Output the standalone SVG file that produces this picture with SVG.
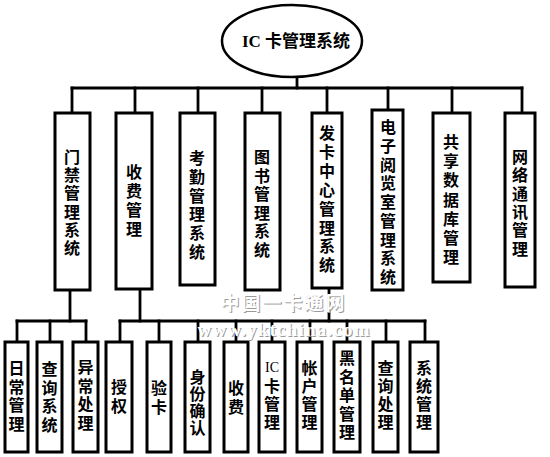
<svg xmlns="http://www.w3.org/2000/svg" width="550" height="457" viewBox="0 0 550 457">
<style>
.box{fill:#fff;stroke:#000;stroke-width:3}
.ln{fill:none;stroke:#000;stroke-width:2.8;stroke-linecap:square}
.t{font-family:"Noto Sans CJK SC","Liberation Serif",serif;font-size:16px;font-weight:700;fill:#000}
.v{writing-mode:vertical-rl;text-orientation:upright}
.wm{font-weight:700;text-anchor:middle}
</style>
<rect width="550" height="457" fill="#fff"/>
<g id="connectors">
<line class="ln" x1="297" y1="77" x2="297" y2="88"/>
<line class="ln" x1="72" y1="88" x2="522" y2="88"/>
<line class="ln" x1="72" y1="88" x2="72" y2="113"/>
<line class="ln" x1="135" y1="88" x2="135" y2="113"/>
<line class="ln" x1="198" y1="88" x2="198" y2="113"/>
<line class="ln" x1="262" y1="88" x2="262" y2="113"/>
<line class="ln" x1="327" y1="88" x2="327" y2="113"/>
<line class="ln" x1="388" y1="88" x2="388" y2="110"/>
<line class="ln" x1="452" y1="88" x2="452" y2="113"/>
<line class="ln" x1="522" y1="88" x2="522" y2="113"/>
<line class="ln" x1="70" y1="290" x2="70" y2="321"/>
<line class="ln" x1="17" y1="321" x2="86" y2="321"/>
<line class="ln" x1="17" y1="321" x2="17" y2="342"/>
<line class="ln" x1="50" y1="321" x2="50" y2="342"/>
<line class="ln" x1="86" y1="321" x2="86" y2="342"/>
<line class="ln" x1="140" y1="289" x2="140" y2="321"/>
<line class="ln" x1="329" y1="288" x2="329" y2="321"/>
<line class="ln" x1="120" y1="321" x2="425" y2="321"/>
<line class="ln" x1="120" y1="321" x2="120" y2="342"/>
<line class="ln" x1="159" y1="321" x2="159" y2="342"/>
<line class="ln" x1="198" y1="321" x2="198" y2="342"/>
<line class="ln" x1="236" y1="321" x2="236" y2="342"/>
<line class="ln" x1="272" y1="321" x2="272" y2="342"/>
<line class="ln" x1="310" y1="321" x2="310" y2="342"/>
<line class="ln" x1="347" y1="321" x2="347" y2="342"/>
<line class="ln" x1="386" y1="321" x2="386" y2="342"/>
<line class="ln" x1="425" y1="321" x2="425" y2="342"/>
</g>
<g id="root">
<ellipse cx="292" cy="41" rx="70" ry="36" fill="#fff" stroke="#000" stroke-width="2.5"/>
<text x="296" y="47" class="t" text-anchor="middle" style="font-size:17px;font-family:'Liberation Serif','Noto Sans CJK SC',serif">IC 卡管理系统</text>
</g>
<g id="n1"><rect class="box" x="55" y="113" width="35" height="177"/>
<text class="t v" x="72" y="149" letter-spacing="2.2">门禁管理系统</text></g>
<g id="n2"><rect class="box" x="116" y="113" width="36" height="176"/>
<text class="t v" x="134" y="164" letter-spacing="3">收费管理</text></g>
<g id="n3"><rect class="box" x="180" y="113" width="35" height="172"/>
<text class="t v" x="197" y="150" letter-spacing="2.8">考勤管理系统</text></g>
<g id="n4"><rect class="box" x="245" y="113" width="35" height="177"/>
<text class="t v" x="262" y="149" letter-spacing="2.6">图书管理系统</text></g>
<g id="n5"><rect class="box" x="312" y="113" width="30" height="175"/>
<text class="t v" x="327" y="125" letter-spacing="2.9">发卡中心管理系统</text></g>
<g id="n6"><rect class="box" x="372" y="110" width="31" height="180"/>
<text class="t v" x="388" y="119" letter-spacing="2.75">电子阅览室管理系统</text></g>
<g id="n7"><rect class="box" x="433" y="113" width="37" height="169"/>
<text class="t v" x="451" y="134" letter-spacing="3.2">共享数据库管理</text></g>
<g id="n8"><rect class="box" x="505" y="113" width="30" height="174"/>
<text class="t v" x="520" y="149" letter-spacing="2.3">网络通讯管理</text></g>
<g id="c1"><rect class="box" x="5" y="342" width="23" height="110"/>
<text class="t v" x="16.5" y="360" letter-spacing="2.5">日常管理</text></g>
<g id="c2"><rect class="box" x="37" y="342" width="25" height="110"/>
<text class="t v" x="49.5" y="361" letter-spacing="2.5">查询系统</text></g>
<g id="c3"><rect class="box" x="73" y="342" width="25" height="110"/>
<text class="t v" x="85.5" y="359" letter-spacing="2.5">异常处理</text></g>
<g id="c4"><rect class="box" x="106" y="342" width="26" height="110"/>
<text class="t v" x="119" y="379" letter-spacing="3">授权</text></g>
<g id="c5"><rect class="box" x="147" y="342" width="24" height="110"/>
<text class="t v" x="159" y="380" letter-spacing="3">验卡</text></g>
<g id="c6"><rect class="box" x="185" y="342" width="25" height="110"/>
<text class="t v" x="197.5" y="369" letter-spacing="1">身份确认</text></g>
<g id="c7"><rect class="box" x="224" y="342" width="24" height="110"/>
<text class="t v" x="236" y="380" letter-spacing="3">收费</text></g>
<g id="c8"><rect class="box" x="259" y="342" width="26" height="110"/>
<text x="272" y="372" text-anchor="middle" style="font-family:'Liberation Serif',serif;font-size:14px;fill:#000">IC</text>
<text class="t v" x="272" y="378" letter-spacing="2">卡管理</text></g>
<g id="c9"><rect class="box" x="297" y="342" width="25" height="110"/>
<text class="t v" x="309.5" y="360" letter-spacing="2">帐户管理</text></g>
<g id="c10"><rect class="box" x="334" y="342" width="26" height="110"/>
<text class="t v" x="347" y="350" letter-spacing="2.5">黑名单管理</text></g>
<g id="c11"><rect class="box" x="373" y="342" width="25" height="110"/>
<text class="t v" x="385.5" y="360" letter-spacing="2">查询处理</text></g>
<g id="c12"><rect class="box" x="410" y="342" width="28" height="110"/>
<text class="t v" x="424" y="360" letter-spacing="2">系统管理</text></g>
<g id="watermark">
<text x="283.5" y="311" class="wm" font-family="'Noto Sans CJK SC',sans-serif" font-size="19" fill="#9a9a9a" textLength="124">中国一卡通网</text>
<text x="282.5" y="310" class="wm" font-family="'Noto Sans CJK SC',sans-serif" font-size="19" fill="#fff" textLength="124">中国一卡通网</text>
<text x="284.5" y="337" class="wm" font-family="'Liberation Serif',serif" font-size="19" fill="#9a9a9a" textLength="172">www.yktchina.com</text>
<text x="283.5" y="336" class="wm" font-family="'Liberation Serif',serif" font-size="19" fill="#fff" textLength="172">www.yktchina.com</text>
</g>
</svg>
